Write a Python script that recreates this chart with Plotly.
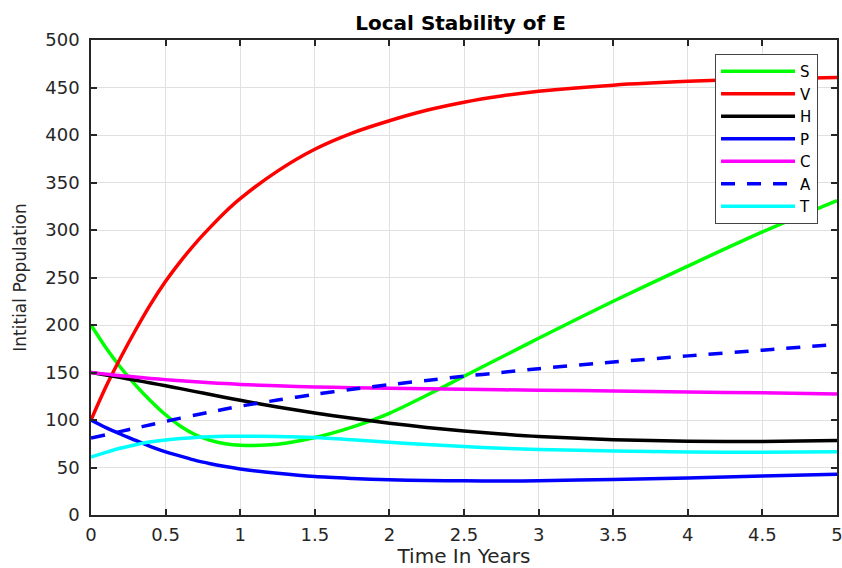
import plotly.graph_objects as go

t = [0, 0.1, 0.2, 0.3, 0.4, 0.5, 0.6, 0.7, 0.8, 0.9, 1, 1.25, 1.5, 1.75, 2, 2.25, 2.5, 2.75, 3, 3.5, 4, 4.5, 5]

S = [200, 176, 155, 136.5, 120, 105.5, 93.5, 84.5, 78.5, 75, 73.5, 74.5, 81.5, 92.5, 107, 126, 146, 166, 186, 225, 262, 298, 331]
V = [100, 135, 166, 195, 222, 246, 267, 286, 303, 319, 333, 362, 385, 402, 415, 426, 434.5, 441, 446, 452.5, 456.5, 459, 460.5]
H = [150, 147.3, 144.6, 141.8, 139, 136, 133, 129.9, 126.8, 123.7, 120.7, 113.7, 107.4, 101.8, 96.7, 92.2, 88.4, 85.2, 82.6, 79.3, 77.7, 77.4, 78.3]
P = [100, 92, 85, 78.5, 72, 66.5, 62, 57.5, 54, 51, 48.5, 44, 40.5, 38.5, 37, 36.3, 36, 35.8, 36, 37.5, 39, 41, 43]
C = [150, 148.3, 146.7, 145.2, 143.8, 142.5, 141.3, 140.2, 139.2, 138.3, 137.5, 136, 134.8, 134, 133.3, 132.8, 132.3, 131.8, 131.4, 130.5, 129.5, 128.6, 127.5]
A = [81, 84.5, 88, 91.5, 95, 98.5, 102, 105.3, 108.5, 111.5, 114.5, 121, 127, 132.3, 137.2, 141.7, 146, 150, 154, 161, 167.5, 173.5, 179.5]
T = [61, 66, 70.5, 74, 77, 79, 80.5, 81.7, 82.4, 82.8, 83, 82.6, 81.5, 79.2, 76.6, 74.2, 72, 70.3, 69, 67.4, 66.4, 66, 66.5]

series = [
    ("S", S, "#00ff00", "solid"),
    ("V", V, "#ff0000", "solid"),
    ("H", H, "#000000", "solid"),
    ("P", P, "#0000ff", "solid"),
    ("C", C, "#ff00ff", "solid"),
    ("A", A, "#0000ff", "14px,12px"),
    ("T", T, "#00ffff", "solid"),
]

fig = go.Figure()
for name, ys, color, dash in series:
    fig.add_trace(go.Scatter(
        x=t, y=ys, name=name, mode="lines",
        line=dict(color=color, width=3.5, dash=dash, shape="spline", smoothing=0.8),
    ))

axis_common = dict(
    showline=True, linecolor="#262626", linewidth=1.5, mirror="allticks",
    ticks="inside", ticklen=6, tickwidth=1.5, tickcolor="#262626",
    showgrid=True, gridcolor="#e0e0e0", gridwidth=1, zeroline=False,
    tickfont=dict(family="DejaVu Sans", size=18, color="#262626"),
    automargin=False, ticklabeloverflow="allow",
)

fig.update_layout(
    width=842, height=568,
    margin=dict(l=91, r=5, t=40, b=53),
    paper_bgcolor="white", plot_bgcolor="white",
    title=dict(text="<b>Local Stability of E</b>", x=0.547, xanchor="center", y=0.960, yanchor="middle",
               font=dict(family="DejaVu Sans", size=20, color="#000000")),
    xaxis=dict(range=[0, 5], dtick=0.5, tick0=0, ticklabelstandoff=3,
               title=dict(text="Time In Years", standoff=4,
                          font=dict(family="DejaVu Sans", size=20, color="#262626")),
               **axis_common),
    yaxis=dict(range=[0, 500], dtick=50, tick0=0, ticklabelstandoff=6,
               title=dict(text="Intitial Population", standoff=14,
                          font=dict(family="DejaVu Sans", size=17, color="#262626")),
               **axis_common),
    legend=dict(x=0.8365, y=0.9705, xanchor="left", yanchor="top",
                bgcolor="white", bordercolor="#444444", borderwidth=1,
                font=dict(family="DejaVu Sans", size=15, color="#000000"),
                itemwidth=74, tracegroupgap=0),
    showlegend=True,
)

fig.write_html(
    "out.html",
    config={"displayModeBar": False},
    post_script="document.body.style.margin='0';document.body.style.overflow='hidden';",
)
